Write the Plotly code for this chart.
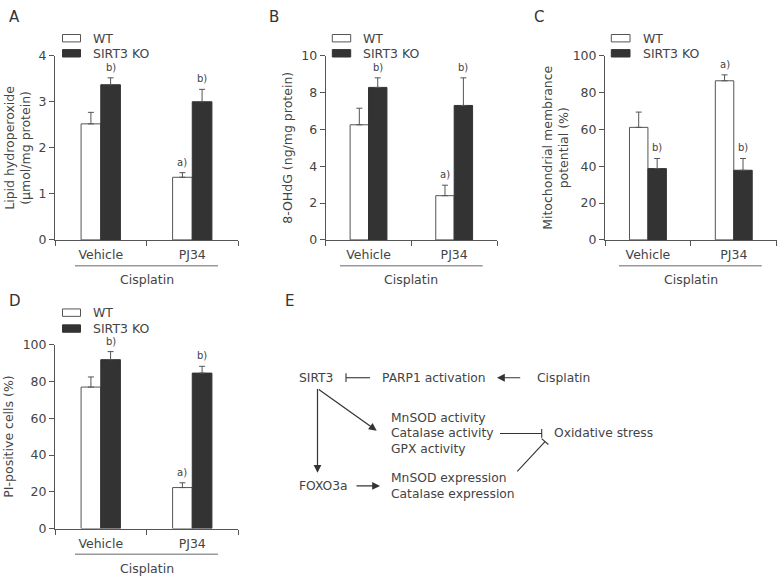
import plotly.graph_objects as go

W, H = 778, 583
FONT = "DejaVu Sans"
TXT = "#444444"
LINE = "#555555"
DARK = "#333333"

# ---------------- data ----------------
groups = ["Vehicle", "PJ34"]
series = ["WT", "SIRT3 KO"]
group_x = [1, 3]

# A: lipid hydroperoxide (umol/mg protein)
a_wt = [2.52, 1.36]
a_wt_err = [0.25, 0.10]
a_ko = [3.37, 3.00]
a_ko_err = [0.15, 0.27]
a_wt_sig = ["", "a)"]
a_ko_sig = ["b)", "b)"]

# B: 8-OHdG (ng/mg protein)
b_wt = [6.25, 2.40]
b_wt_err = [0.90, 0.57]
b_ko = [8.28, 7.30]
b_ko_err = [0.52, 1.50]
b_wt_sig = ["", "a)"]
b_ko_sig = ["b)", "b)"]

# C: mitochondrial membrane potential (%)
c_wt = [61.1, 86.4]
c_wt_err = [8.3, 3.2]
c_ko = [38.7, 37.8]
c_ko_err = [5.5, 6.4]
c_wt_sig = ["", "a)"]
c_ko_sig = ["b)", "b)"]

# D: PI-positive cells (%)
d_wt = [77.0, 22.3]
d_wt_err = [5.5, 2.6]
d_ko = [91.9, 84.6]
d_ko_err = [4.4, 3.7]
d_wt_sig = ["", "a)"]
d_ko_sig = ["b)", "b)"]

treatment_label = "Cisplatin"


def px(x):
    return x / W


def py(y):
    return 1 - y / H


panels = [
    dict(letter="A", wt=a_wt, wte=a_wt_err, ko=a_ko, koe=a_ko_err, ws=a_wt_sig, ks=a_ko_sig,
         ymax=4, dtick=1, title="Lipid hydroperoxide<br>(μmol/mg protein)",
         ax=(55, 238), ay=(49, 238), letter_pos=(7, 9), title_x=18,
         leg=(62.5, 80.5, 31, 46.5, 91), line=(75, 218), dy=0),
    dict(letter="B", wt=b_wt, wte=b_wt_err, ko=b_ko, koe=b_ko_err, ws=b_wt_sig, ks=b_ko_sig,
         ymax=10, dtick=2, title="8-OHdG (ng/mg protein)",
         ax=(325.7, 497), ay=(49, 238), letter_pos=(267, 9), title_x=288,
         leg=(332.3, 350.7, 31, 46.5, 361), line=(340, 482.7), dy=0),
    dict(letter="C", wt=c_wt, wte=c_wt_err, ko=c_ko, koe=c_ko_err, ws=c_wt_sig, ks=c_ko_sig,
         ymax=100, dtick=20, title="Mitochondrial membrance<br>potential (%)",
         ax=(605, 776.7), ay=(49, 238), letter_pos=(532, 9), title_x=556,
         leg=(611.3, 630, 31, 46.5, 641), line=(619, 761.7), dy=0),
    dict(letter="D", wt=d_wt, wte=d_wt_err, ko=d_ko, koe=d_ko_err, ws=d_wt_sig, ks=d_ko_sig,
         ymax=100, dtick=20, title="PI-positive cells (%)",
         ax=(55, 238), ay=(345.7, 534.3), letter_pos=(7, 301), title_x=9,
         leg=(62.5, 80.5, 312.7, 329, 91), line=(75, 218), dy=296.3),
]

fig = go.Figure()
annotations = []
shapes = []
BW = 0.43

for i, p in enumerate(panels, start=1):
    xa = "x" if i == 1 else f"x{i}"
    ya = "y" if i == 1 else f"y{i}"
    xkey = "xaxis" if i == 1 else f"xaxis{i}"
    ykey = "yaxis" if i == 1 else f"yaxis{i}"

    fig.add_trace(go.Bar(
        x=group_x, y=p["wt"], name=series[0], width=BW, offset=-BW,
        marker=dict(color="white", line=dict(color=LINE, width=1)),
        error_y=dict(type="data", symmetric=False, array=p["wte"], arrayminus=[0, 0],
                     color=LINE, thickness=1, width=3),
        xaxis=xa, yaxis=ya, showlegend=False, hoverinfo="skip"))
    fig.add_trace(go.Bar(
        x=group_x, y=p["ko"], name=series[1], width=BW, offset=0,
        marker=dict(color=DARK, line=dict(color=DARK, width=1)),
        error_y=dict(type="data", symmetric=False, array=p["koe"], arrayminus=[0, 0],
                     color=LINE, thickness=1, width=3),
        xaxis=xa, yaxis=ya, showlegend=False, hoverinfo="skip"))

    fig.update_layout(**{
        xkey: dict(domain=[px(p["ax"][0]), px(p["ax"][1])], range=[0, 4], anchor=ya,
                   showline=True, linecolor=LINE, linewidth=1, showgrid=False, zeroline=False,
                   tickmode="array", tickvals=group_x, ticktext=groups, ticks="",
                   ticklabelstandoff=3,
                   tickfont=dict(family=FONT, size=12.5, color=TXT),
                   minor=dict(tickmode="linear", tick0=0, dtick=2, ticks="outside",
                              ticklen=5, tickcolor=LINE, tickwidth=1),
                   fixedrange=True),
        ykey: dict(domain=[py(p["ay"][1]), py(p["ay"][0])], range=[0, p["ymax"]], anchor=xa,
                   showline=True, linecolor=LINE, linewidth=1, showgrid=False, zeroline=False,
                   tick0=0, dtick=p["dtick"], ticks="outside", ticklen=5, tickcolor=LINE,
                   tickfont=dict(family=FONT, size=12.5, color=TXT), fixedrange=True),
    })

    # significance marks
    for j in range(2):
        for vals, errs, sig, dx in ((p["wt"], p["wte"], p["ws"], -BW / 2),
                                    (p["ko"], p["koe"], p["ks"], BW / 2)):
            if sig[j]:
                annotations.append(dict(x=group_x[j] + dx, y=vals[j] + errs[j], xref=xa, yref=ya,
                                        text=sig[j], showarrow=False, yanchor="bottom", yshift=3,
                                        font=dict(family=FONT, size=10, color=TXT)))

    # y-axis title
    annotations.append(dict(x=px(p["title_x"]), y=py((p["ay"][0] + p["ay"][1]) / 2),
                            xref="paper", yref="paper", text=p["title"], textangle=-90,
                            showarrow=False, xanchor="center", yanchor="middle",
                            font=dict(family=FONT, size=12.5, color=TXT)))
    # panel letter
    annotations.append(dict(x=px(p["letter_pos"][0]), y=py(p["letter_pos"][1]),
                            xref="paper", yref="paper", text=p["letter"], showarrow=False,
                            xanchor="left", yanchor="middle",
                            font=dict(family=FONT, size=15, color="#333333")))
    # legend
    lx0, lx1, ly1, ly2, ltx = p["leg"]
    for yc, fill, name in ((ly1, "white", series[0]), (ly2, DARK, series[1])):
        shapes.append(dict(type="rect", xref="paper", yref="paper",
                           x0=px(lx0), x1=px(lx1), y0=py(yc + 3.8), y1=py(yc - 3.8),
                           fillcolor=fill, line=dict(color=LINE if fill == "white" else DARK, width=1)))
        annotations.append(dict(x=px(ltx), y=py(yc), xref="paper", yref="paper", text=name,
                                showarrow=False, xanchor="left", yanchor="middle",
                                font=dict(family=FONT, size=12.5, color=TXT)))
    # treatment underline + label
    dy = p["dy"]
    shapes.append(dict(type="line", xref="paper", yref="paper",
                       x0=px(p["line"][0]), x1=px(p["line"][1]),
                       y0=py(264.5 + dy), y1=py(264.5 + dy), line=dict(color="#999999", width=1.5)))
    annotations.append(dict(x=px((p["ax"][0] + p["ax"][1]) / 2), y=py(279 + dy),
                            xref="paper", yref="paper", text=treatment_label, showarrow=False,
                            xanchor="center", yanchor="middle",
                            font=dict(family=FONT, size=12.5, color=TXT)))

# ---------------- panel E: schematic ----------------
annotations.append(dict(x=px(282.5), y=py(301), xref="paper", yref="paper", text="E",
                        showarrow=False, xanchor="left", yanchor="middle",
                        font=dict(family=FONT, size=15, color="#333333")))

diagram_texts = [
    ("SIRT3", 296.5, 379.3),
    ("PARP1 activation", 380, 379.3),
    ("Cisplatin", 535, 379.3),
    ("MnSOD activity", 389.3, 420.5),
    ("Catalase activity", 389.3, 436.7),
    ("GPX activity", 389.3, 452.5),
    ("Oxidative stress", 552.3, 436.7),
    ("FOXO3a", 297, 490.5),
    ("MnSOD expression", 389.3, 482.5),
    ("Catalase expression", 389.3, 499),
]
for t, x, y in diagram_texts:
    annotations.append(dict(x=px(x), y=py(y), xref="paper", yref="paper", text=t,
                            showarrow=False, xanchor="left", yanchor="middle",
                            font=dict(family=FONT, size=12.3, color=TXT)))

# activating arrows: (tail_x, tail_y, tip_x, tip_y)
arrows = [
    (521.7, 379.5, 497.0, 379.5),
    (317.3, 391.7, 376.7, 433.8),
    (317.5, 391.7, 317.5, 477.0),
    (355.0, 490.5, 380.0, 490.5),
]
for x0, y0, x1, y1 in arrows:
    annotations.append(dict(x=px(x1), y=py(y1), xref="paper", yref="paper",
                            ax=x0 - x1, ay=y0 - y1, axref="pixel", ayref="pixel",
                            text="", showarrow=True, arrowhead=2, arrowsize=1.3,
                            arrowwidth=1.2, arrowcolor="#333333", standoff=0))

# inhibitory lines: (start_x, start_y, end_x, end_y), with a T-bar at end
inhib = [
    (370.0, 379.5, 346.0, 379.5),
    (500.0, 436.7, 541.7, 436.7),
    (517.3, 475.7, 545.0, 445.0),
]
for x0, y0, x1, y1 in inhib:
    shapes.append(dict(type="line", xref="paper", yref="paper",
                       x0=px(x0), y0=py(y0), x1=px(x1), y1=py(y1),
                       line=dict(color="#333333", width=1.1)))
    dxv, dyv = x1 - x0, y1 - y0
    n = (dxv ** 2 + dyv ** 2) ** 0.5
    ux, uy = -dyv / n, dxv / n
    hl = 4.5
    shapes.append(dict(type="line", xref="paper", yref="paper",
                       x0=px(x1 - ux * hl), y0=py(y1 - uy * hl),
                       x1=px(x1 + ux * hl), y1=py(y1 + uy * hl),
                       line=dict(color="#333333", width=1.1)))

fig.update_layout(
    width=W, height=H, margin=dict(l=0, r=0, t=0, b=0),
    paper_bgcolor="white", plot_bgcolor="white",
    barmode="overlay", showlegend=False, hovermode=False,
    font=dict(family=FONT, color=TXT),
    annotations=annotations, shapes=shapes,
)

fig.write_html(
    "out.html",
    config={"displayModeBar": False, "staticPlot": True},
    post_script="document.body.style.margin='0';document.body.style.padding='0';"
                "document.documentElement.style.margin='0';document.documentElement.style.overflow='hidden';",
)
